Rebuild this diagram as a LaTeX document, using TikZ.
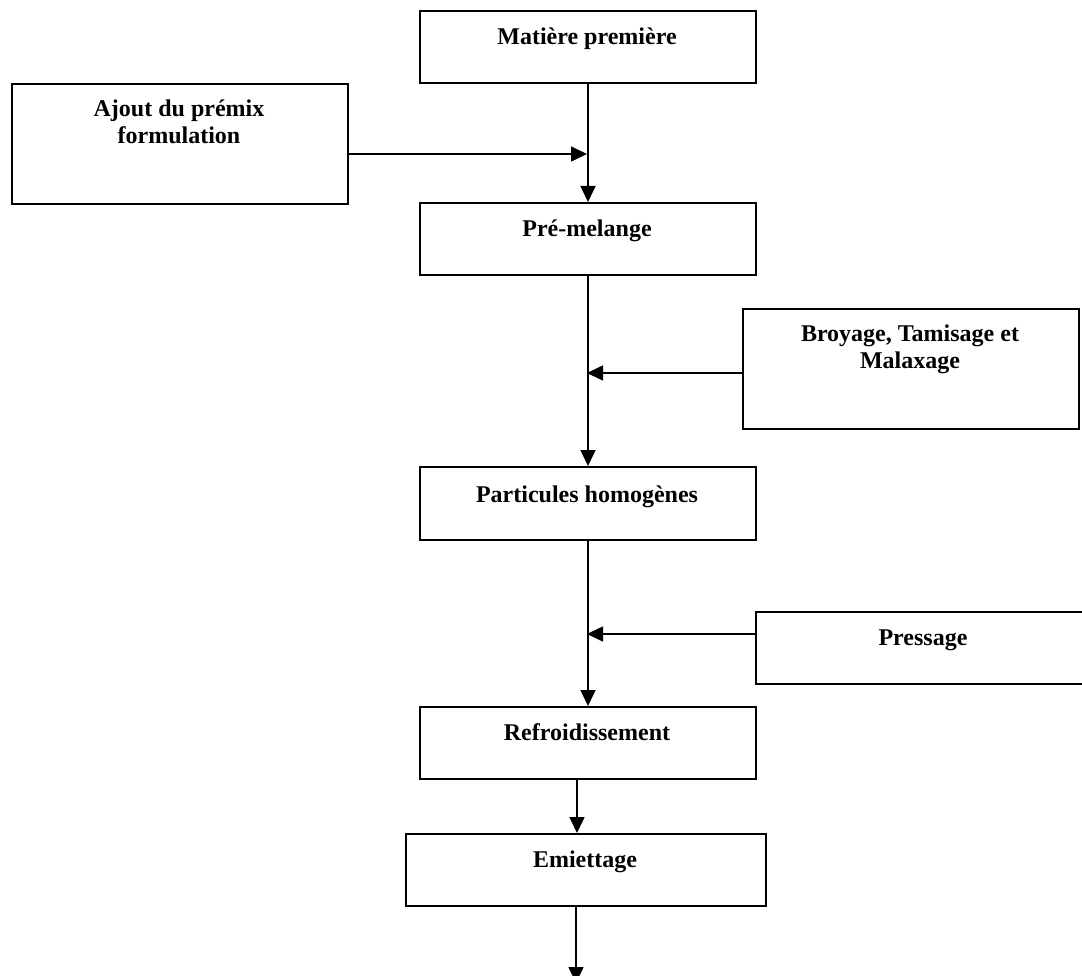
\documentclass[tikz,border=0pt]{standalone}
\usepackage{fontspec}
\setmainfont{Liberation Serif}
\usetikzlibrary{arrows.meta}
\begin{document}
\begin{tikzpicture}[x=1pt,y=-1pt,
  box/.style={draw, line width=2pt, rectangle, inner sep=0pt, anchor=north west},
  lbl/.style={font=\bfseries\fontsize{24}{27}\selectfont, align=center, anchor=base, inner sep=0pt},
  flow/.style={line width=1.6pt, -{Triangle[length=16pt,width=15pt]}}]
\clip (0,0) rectangle (1082,976);
\fill[white] (0,0) rectangle (1082,976);
% boxes
\node[box, minimum width=336pt, minimum height=72pt] (mp) at (419,10) {};
\node[box, minimum width=336pt, minimum height=120pt] (aj) at (11,83) {};
\node[box, minimum width=336pt, minimum height=72pt] (pm) at (419,202) {};
\node[box, minimum width=336pt, minimum height=120pt] (br) at (742,308) {};
\node[box, minimum width=336pt, minimum height=73pt] (ph) at (419,466) {};
\node[box, minimum width=336pt, minimum height=72pt] (pr) at (755,611) {};
\node[box, minimum width=336pt, minimum height=72pt] (rf) at (419,706) {};
\node[box, minimum width=360pt, minimum height=72pt] (em) at (405,833) {};
% labels (base anchor = baseline of the last line)
\node[lbl] (tmp) at (587,45) {Matière première};
\node[lbl] (taj) at (179,144) {Ajout du prémix\\formulation};
\node[lbl] (tpm) at (587,237) {Pré-melange};
\node[lbl] (tbr) at (910,369) {Broyage, Tamisage et\\Malaxage};
\node[lbl] (tph) at (587,502) {Particules homogènes};
\node[lbl] (tpr) at (923,645) {Pressage};
\node[lbl] (trf) at (587,740) {Refroidissement};
\node[lbl] (tem) at (585,867) {Emiettage};
% junctions
\coordinate (j1) at (587,154);
\coordinate (j2) at (587,373);
\coordinate (j3) at (587,634);
\coordinate (c4) at (577,800);
\coordinate (out) at (576,983);
% connectors
\draw[flow] (mp.south) -- (pm.north);
\draw[flow] (j1 -| aj.east) -- (j1);
\draw[flow] (pm.south) -- (ph.north);
\draw[flow] (j2 -| br.west) -- (j2);
\draw[flow] (ph.south) -- (rf.north);
\draw[flow] (j3 -| pr.west) -- (j3);
\draw[flow] (rf.south -| c4) -- (em.north -| c4);
\draw[flow] (em.south -| out) -- (out);
\end{tikzpicture}
\end{document}
